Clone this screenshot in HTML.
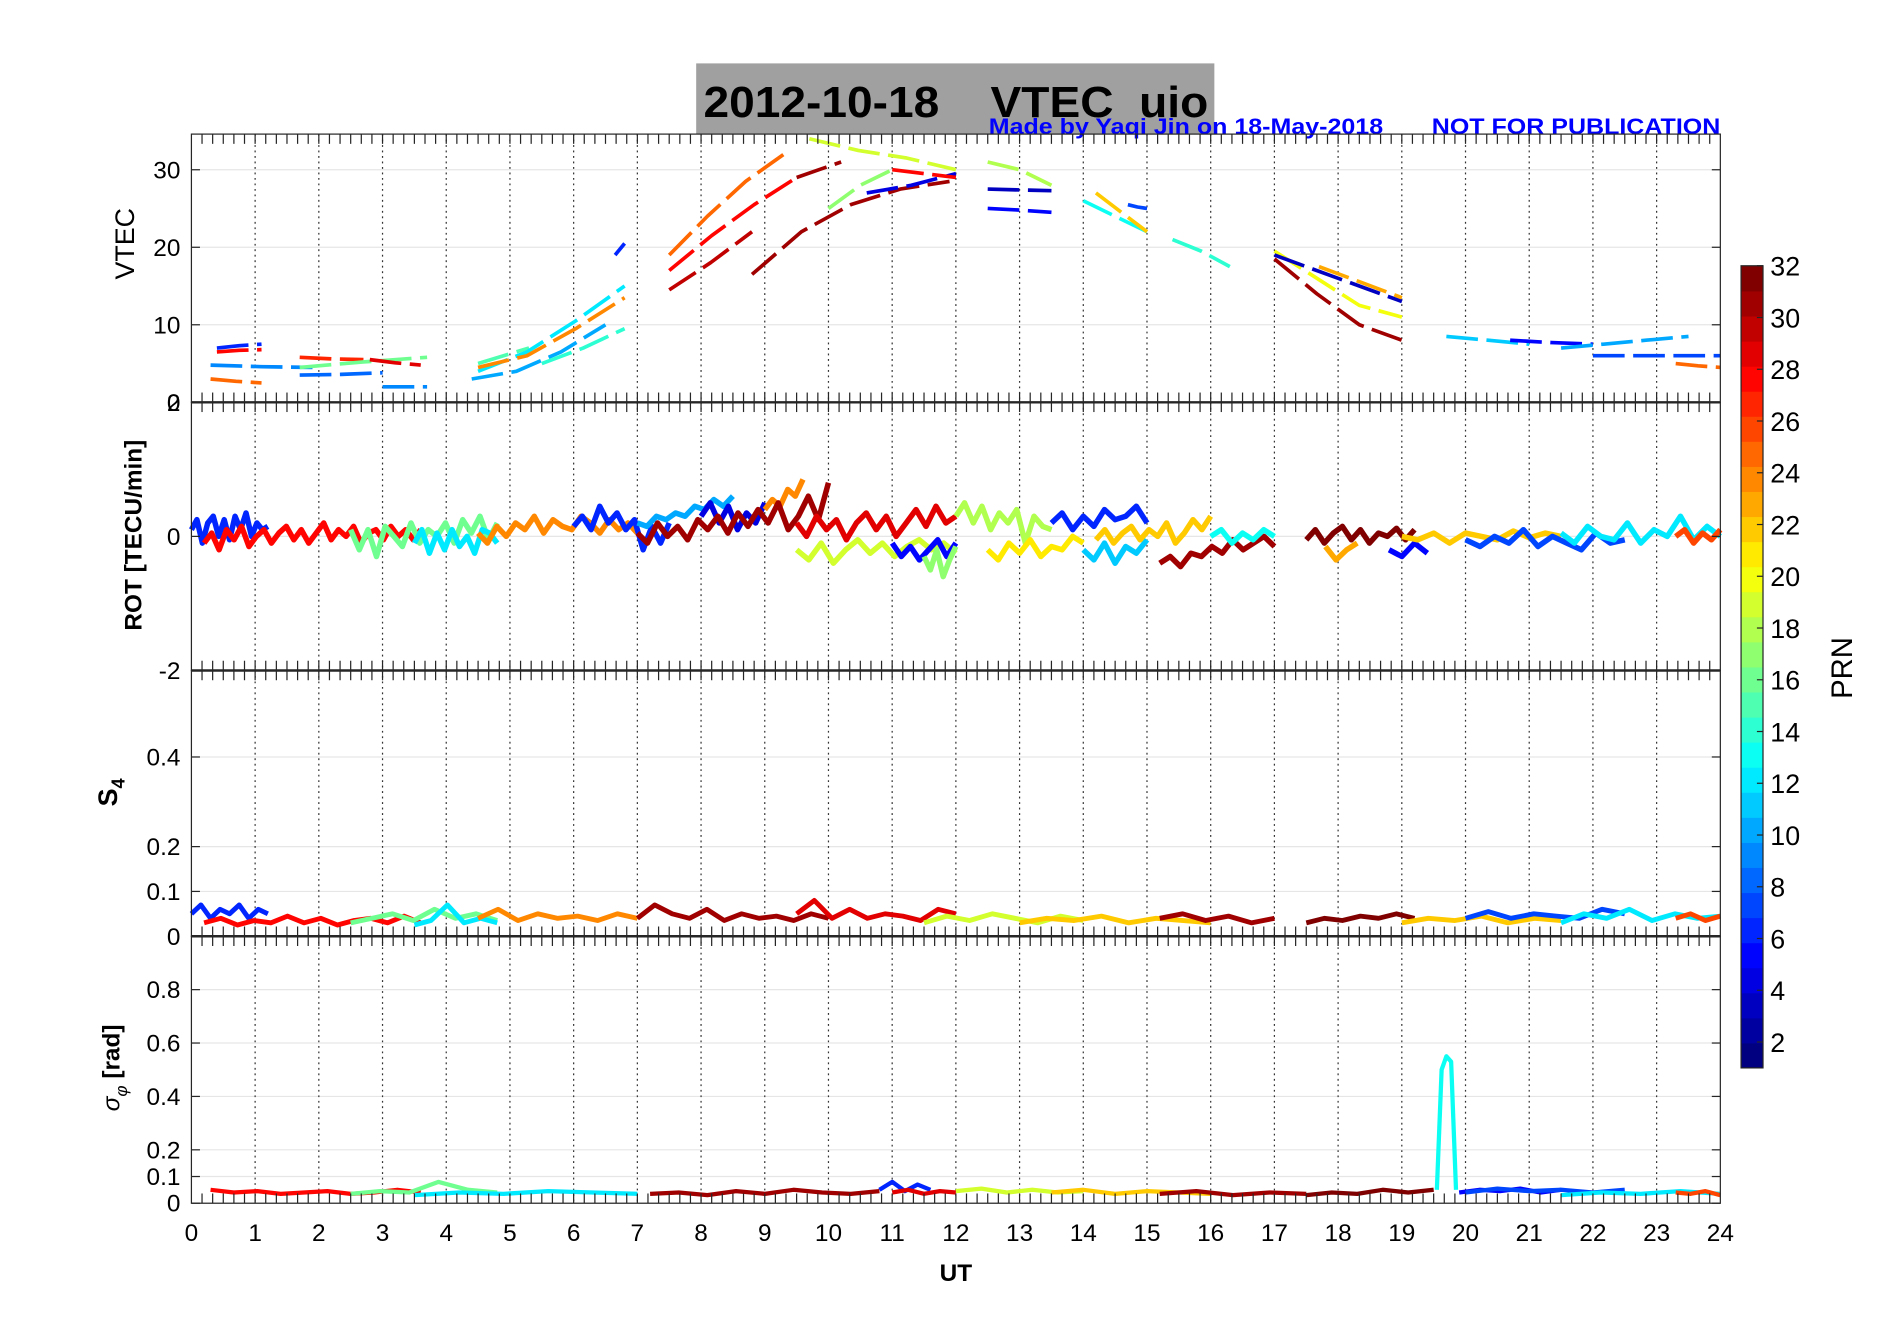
<!DOCTYPE html>
<html><head><meta charset="utf-8"><style>
html,body{margin:0;padding:0;background:#fff;}
svg{display:block;font-family:"Liberation Sans",Arial,sans-serif;}
</style></head><body>
<svg id="fig" width="1902" height="1330" viewBox="0 0 1560 1091" preserveAspectRatio="none" xmlns="http://www.w3.org/2000/svg">
<rect x="0" y="0" width="1560" height="1091" fill="#fff"/>
<rect x="571" y="52" width="425" height="58" fill="#a0a0a0"/>
<text x="577" y="96" font-size="36" font-weight="bold" fill="#000" textLength="414" lengthAdjust="spacingAndGlyphs" xml:space="preserve">2012-10-18    VTEC  uio</text>
<text x="811" y="110" font-size="18" font-weight="bold" fill="#0000ff" textLength="600" lengthAdjust="spacingAndGlyphs" xml:space="preserve">Made by Yaqi Jin on 18-May-2018       NOT FOR PUBLICATION</text>
<g id="grid"></g>
<g id="marks"></g>
<g id="axes"></g>
<g id="cbar"></g>
<text x="784" y="1051" font-size="20" font-weight="bold" text-anchor="middle">UT</text>
<text transform="translate(110,200) rotate(-90)" font-size="22" text-anchor="middle">VTEC</text>
<text transform="translate(116,439) rotate(-90)" font-size="20" font-weight="bold" text-anchor="middle">ROT [TECU/min]</text>
<text transform="translate(96,650) rotate(-90)" font-size="22" font-weight="bold" text-anchor="middle">S<tspan font-size="15" dy="6">4</tspan></text>
<text transform="translate(98,876) rotate(-90)" font-size="20" font-weight="bold" text-anchor="middle"><tspan font-style="italic" font-weight="normal">σ</tspan><tspan font-size="14" dy="6" font-style="italic" font-weight="normal">φ</tspan><tspan dy="-6"> [rad]</tspan></text>
<text transform="translate(1519,548) rotate(-90)" font-size="24" text-anchor="middle">PRN</text>
</svg>
<script>
// ---- data ----
const hourTicks=[0,1,2,3,4,5,6,7,8,9,10,11,12,13,14,15,16,17,18,19,20,21,22,23,24];
const vtecTicks=[0,10,20,30];
const rotTicks=[-2,0,2];
const s4Ticks=[0,0.1,0.2,0.4];
const sigTicks=[0,0.1,0.2,0.4,0.6,0.8];
const prnTicks=[2,4,6,8,10,12,14,16,18,20,22,24,26,28,30,32];
// VTEC arcs: prn, start hour, end hour, values (evenly spaced)
const vtecPrn=[28,6,9,25,27,16,8,29,9,15,10,12,24,14,6,30,25,28,31,31,19,17,4,28,3,5,18,13,22,7,14,20,31,3,23,11,5,10,7,25];
const vtecT0=[0.4,0.4,0.3,0.3,1.7,1.7,1.7,2.8,3.0,4.5,4.4,4.5,4.5,5.5,6.65,7.5,7.5,7.5,8.8,9.5,9.7,10.0,10.6,11.0,12.5,12.5,12.5,14.0,14.2,14.7,15.4,17.0,17.0,17.0,17.7,19.7,20.7,21.5,22.0,23.3];
const vtecT1=[1.1,1.1,1.9,1.1,2.7,3.7,3.0,3.6,3.7,5.3,6.5,6.8,6.8,6.8,6.8,8.8,9.3,9.5,11.9,10.2,12.0,11.0,12.0,12.0,13.5,13.5,13.5,15.0,15.0,15.0,16.3,19.0,19.0,19.0,19.0,21.0,22.0,23.5,24.0,24.0];
const vtecVals=[
[6.5,6.7,6.8],[7,7.3,7.5],[4.8,4.6,4.5],[3,2.7,2.5],[5.8,5.6,5.5],[4.5,5.2,5.8],[3.5,3.6,3.8],[5.5,5.1,4.8],[2,2,2],[5,6,7],
[3,4,6.5,10],[4,6.5,10.5,15],[4.5,6,9.5,13.5],[5,7,9.5],[19,20.5],[14.5,18,22],[19,24,28.5,32],[17,21.5,25.5,29],[16.5,22,25.5,27.5,28.5],[29,30,31],
[34,32.5,31.5,30],[25,28,30],[27,28,29.5],[30,29.5,29],[27.5,27.4,27.3],[25,24.8,24.5],[31,30,28],[26,24,22],[27,24.5,22],[25.5,25.2,25],
[21,19.5,17.5],[19.5,16,12.5,11],[18.5,14,10,8],[19,16,13],[17.5,15.5,13.5],[8.5,8,7.5],[8,7.7,7.5],[7,7.5,8,8.5],[6,6,6],[5,4.7,4.5]];
// ROT segments
const rotPrn=[6,28,16,12,24,6,10,4,24,31,29,19,5,17,18,21,6,11,22,31,13,32,23,5,22,7,12,26];
const rotT0=[0,0.2,2.5,3.5,4.5,6,7,8,9,7,9.5,9.5,11,11.5,12,12.5,13.5,14,14.2,15.2,16,17.5,17.8,18.8,19,20,21.5,23.3];
const rotT1=[1.2,3.6,4.8,4.8,7,7.5,8.5,9,9.6,10,12,12,12,12,13.5,14,15,15,16,17,17,19.2,18.3,19.4,21.5,22.5,24,24];
const rotVals=[
[0.1,0.25,-0.1,0.2,0.3,0,0.25,-0.05,0.3,0.1,0.35,0,0.2,0.1,0.15],
[-0.1,0.05,-0.2,0.1,-0.05,0.15,-0.15,0,0.1,-0.1,0.05,0.15,-0.05,0.1,-0.1,0.05,0.2,-0.05,0.1,0,0.15,-0.1,0.05,0.1,-0.05,0.15,0,0.1,-0.05,0.1],
[0.1,-0.2,0.1,-0.3,0.15,0,-0.15,0.2,-0.1,0.1,0,0.2,-0.1,0.25,0.05,0.3,-0.05,0.2],
[-0.1,0.1,-0.25,0.05,-0.2,0.1,-0.15,0,-0.25,0.1,0.05,-0.1],
[0.05,-0.1,0.15,0,0.2,0.1,0.3,0.05,0.25,0.15,0.1,0.3,0.2,0.05,0.25,0.1,0.2,0.05],
[0.15,0.3,0.1,0.45,0.2,0.35,0.1,0.25,-0.2,0.15,-0.1,0.2],
[0.2,0.15,0.3,0.25,0.35,0.3,0.45,0.4,0.55,0.45,0.6],
[0.3,0.5,0.2,0.45,0.1,0.35,0.2,0.5],
[0.4,0.55,0.45,0.7,0.6,0.85],
[0.05,-0.1,0.2,0,0.15,-0.05,0.25,0.1,0.3,0.05,0.35,0.15,0.4,0.2,0.5,0.1,0.3,0.6,0.25,0.8],
[0.2,0,0.3,0.1,0.25,-0.05,0.2,0.35,0.1,0.3,0,0.2,0.4,0.15,0.45,0.2,0.3],
[-0.2,-0.35,-0.1,-0.4,-0.2,-0.05,-0.25,-0.1,-0.3,-0.15,-0.05,-0.2,-0.1,-0.25],
[-0.1,-0.3,-0.15,-0.35,-0.2,-0.05,-0.3,-0.1],
[-0.3,-0.5,-0.2,-0.6,-0.35,-0.15],
[0.3,0.5,0.2,0.45,0.1,0.35,0.2,0.4,-0.1,0.3,0.15,0.1],
[-0.2,-0.35,-0.1,-0.25,-0.05,-0.3,-0.15,-0.2,0,-0.1],
[0.2,0.35,0.1,0.3,0.15,0.4,0.25,0.3,0.45,0.2],
[-0.2,-0.35,-0.1,-0.4,-0.15,-0.25,-0.05],
[-0.05,0.1,-0.1,0.05,0.15,-0.05,0.1,0,0.2,-0.1,0.05,0.25,0.1,0.3],
[-0.4,-0.3,-0.45,-0.25,-0.3,-0.15,-0.25,-0.05,-0.2,-0.1,0,-0.15],
[0,0.1,-0.1,0.05,-0.05,0.1,0],
[-0.05,0.1,-0.1,0.05,0.15,-0.05,0.1,-0.1,0.05,0,0.12,-0.05,0.1],
[-0.15,-0.35,-0.2,-0.1],
[-0.2,-0.3,-0.1,-0.25],
[0,-0.05,0.05,-0.1,0.05,0,-0.05,0.08,-0.02,0.05,0],
[-0.05,-0.15,0,-0.1,0.1,-0.15,0,-0.1,-0.2,0.05,-0.1,-0.05],
[0.05,-0.1,0.15,0,-0.05,0.2,-0.1,0.1,0,0.3,-0.05,0.15,0],
[0,0.1,-0.1,0.05,-0.05,0.1]];
// S4 segments
const s4Prn=[6,28,16,12,24,31,29,19,22,31,32,22,7,12,26];
const s4T0=[0,0.2,2.5,3.5,4.5,7,9.5,11.5,13,15.2,17.5,19,20,21.5,23.3];
const s4T1=[1.2,3.6,4.8,4.8,7,10,12,14,16,17,19.2,21.5,22.5,24,24];
const s4Vals=[
[0.05,0.07,0.04,0.06,0.05,0.07,0.04,0.06,0.05],
[0.03,0.04,0.025,0.035,0.03,0.045,0.03,0.04,0.025,0.035,0.04,0.03,0.045,0.03],
[0.03,0.04,0.05,0.035,0.06,0.04,0.05,0.035],
[0.025,0.035,0.07,0.03,0.04,0.03],
[0.04,0.06,0.035,0.05,0.04,0.045,0.035,0.05,0.04],
[0.04,0.07,0.05,0.04,0.06,0.035,0.05,0.04,0.045,0.035,0.05,0.04],
[0.05,0.08,0.04,0.06,0.04,0.05,0.045,0.035,0.06,0.05],
[0.03,0.045,0.035,0.05,0.04,0.03,0.045,0.035],
[0.03,0.04,0.035,0.045,0.03,0.04,0.035,0.03],
[0.04,0.05,0.035,0.045,0.03,0.04],
[0.03,0.04,0.035,0.045,0.04,0.05,0.04],
[0.03,0.04,0.035,0.045,0.03,0.04,0.035],
[0.04,0.055,0.04,0.05,0.045,0.04,0.06,0.05],
[0.03,0.05,0.04,0.06,0.035,0.05,0.04,0.045],
[0.04,0.05,0.035,0.045]];
// sigma-phi segments
const sigPrn=[28,16,12,31,6,29,19,22,31,32,13,5,7,12,26];
const sigT0=[0.3,2.5,3.5,7.2,10.8,11,12,13.5,15.2,17.5,19.55,19.9,20,21.5,23.3];
const sigT1=[3.6,4.8,7,10.8,11.6,12,14,16,17.5,19.5,19.85,21.5,22.5,24,24];
const sigVals=[
[0.05,0.04,0.045,0.035,0.04,0.045,0.035,0.04,0.05,0.04],
[0.035,0.045,0.04,0.08,0.05,0.04],
[0.03,0.04,0.035,0.045,0.04,0.035],
[0.035,0.04,0.03,0.045,0.035,0.05,0.04,0.035,0.045],
[0.05,0.08,0.045,0.07,0.05],
[0.04,0.05,0.035,0.045,0.04],
[0.045,0.055,0.04,0.05,0.04,0.045],
[0.04,0.05,0.035,0.045,0.04,0.035],
[0.035,0.045,0.03,0.04,0.035],
[0.03,0.04,0.035,0.05,0.04,0.05],
[0.05,0.5,0.55,0.53,0.05],
[0.04,0.05,0.045,0.055,0.04,0.05],
[0.04,0.055,0.045,0.05,0.04,0.05],
[0.03,0.04,0.035,0.045,0.035],
[0.04,0.035,0.045,0.03]];

// ---- geometry ----
const X0=157,X1=1411;
const panels=[
 {name:'vtec',top:110,bot:330,min:0,max:34.6,ticks:vtecTicks},
 {name:'rot',top:330,bot:550,min:-2,max:2,ticks:rotTicks},
 {name:'s4',top:550,bot:768,min:0,max:0.593,ticks:s4Ticks},
 {name:'sigma',top:768,bot:987,min:0,max:1.0,ticks:sigTicks}];
const NS='http://www.w3.org/2000/svg';
const xs=h=>X0+(X1-X0)*h/24;
const ys=(p,v)=>p.bot-(p.bot-p.top)*(v-p.min)/(p.max-p.min);
function jet(prn){const t=(prn-1)/31;const c=x=>Math.round(255*Math.max(0,Math.min(1,x)));
 return `rgb(${c(1.5-Math.abs(4*t-3))},${c(1.5-Math.abs(4*t-2))},${c(1.5-Math.abs(4*t-1))})`;}
function mk(tag,attrs,parent){const e=document.createElementNS(NS,tag);for(const k in attrs)e.setAttribute(k,attrs[k]);parent.appendChild(e);return e;}
const G=document.getElementById('grid'),M=document.getElementById('marks'),A=document.getElementById('axes'),C=document.getElementById('cbar');

panels.forEach(p=>{
 p.ticks.forEach(v=>{const y=ys(p,v);
  const l=mk('line',{x1:X0,x2:X1,y1:y,y2:y,stroke:'#e6e6e6','stroke-width':1},G);
  
  
  const t=mk('text',{x:X0-9,y:y+7,'font-size':20,'text-anchor':'end'},A);t.textContent=String(v);
  
  
  mk('line',{x1:X0,x2:X0+7,y1:y,y2:y,stroke:'#262626','stroke-width':1},A);
  mk('line',{x1:X1,x2:X1-7,y1:y,y2:y,stroke:'#262626','stroke-width':1},A);
 });
 hourTicks.forEach(h=>{if(h>0&&h<24){const l=mk('line',{x1:xs(h),x2:xs(h),y1:p.top,y2:p.bot,stroke:'#333','stroke-width':1,'stroke-dasharray':'1.5,3'},G);
  
  }});
 for(let i=1;i<144;i++){const x=xs(i/6);
  mk('line',{x1:x,x2:x,y1:p.top,y2:p.top+8,stroke:'#262626','stroke-width':1},A);
  mk('line',{x1:x,x2:x,y1:p.bot,y2:p.bot-8,stroke:'#262626','stroke-width':1},A);}
 const r=mk('rect',{x:X0,y:p.top,width:X1-X0,height:p.bot-p.top,fill:'none',stroke:'#262626','stroke-width':1},A);
 
 
});
[330,550,768].forEach(y=>mk('line',{x1:X0,x2:X1,y1:y,y2:y,stroke:'#262626','stroke-width':2},A));
hourTicks.forEach(h=>{const t=mk('text',{x:xs(h),y:1018,'font-size':20,'text-anchor':'middle'},A);t.textContent=String(h);
 
 });

function drawSegs(p,prns,t0s,t1s,vals,w,dash){
 prns.forEach((prn,i)=>{const v=vals[i],n=v.length;
  const pts=v.map((val,j)=>{const h=t0s[i]+(t1s[i]-t0s[i])*(n>1?j/(n-1):0);return xs(h).toFixed(1)+','+ys(p,val).toFixed(1);}).join(' ');
  const a={points:pts,fill:'none',stroke:jet(prn),'stroke-width':w,'stroke-linejoin':'round'};
  if(dash)a['stroke-dasharray']=dash;
  const e=mk('polyline',a,M);
  
  
 });
}
drawSegs(panels[0],vtecPrn,vtecT0,vtecT1,vtecVals,3,'26,7');
drawSegs(panels[1],rotPrn,rotT0,rotT1,rotVals,4.5,null);
drawSegs(panels[2],s4Prn,s4T0,s4T1,s4Vals,4,null);
drawSegs(panels[3],sigPrn,sigT0,sigT1,sigVals,3.5,null);

const CB={x:1428,w:18,top:218,bot:876};
for(let k=1;k<=32;k++){const h=(CB.bot-CB.top)/32;
 const r=mk('rect',{x:CB.x,y:CB.bot-k*h,width:CB.w,height:h+0.5,fill:jet(k)},C);
 
 }
mk('rect',{x:CB.x,y:CB.top,width:CB.w,height:CB.bot-CB.top,fill:'none',stroke:'#262626','stroke-width':1},C);
prnTicks.forEach(v=>{const y=CB.bot-(v-1)/31*(CB.bot-CB.top);
 mk('line',{x1:CB.x+CB.w-5,x2:CB.x+CB.w,y1:y,y2:y,stroke:'#262626'},C);
 const t=mk('text',{x:CB.x+CB.w+6,y:y+8,'font-size':22},C);t.textContent=String(v);
 
 });
</script>
</body></html>
